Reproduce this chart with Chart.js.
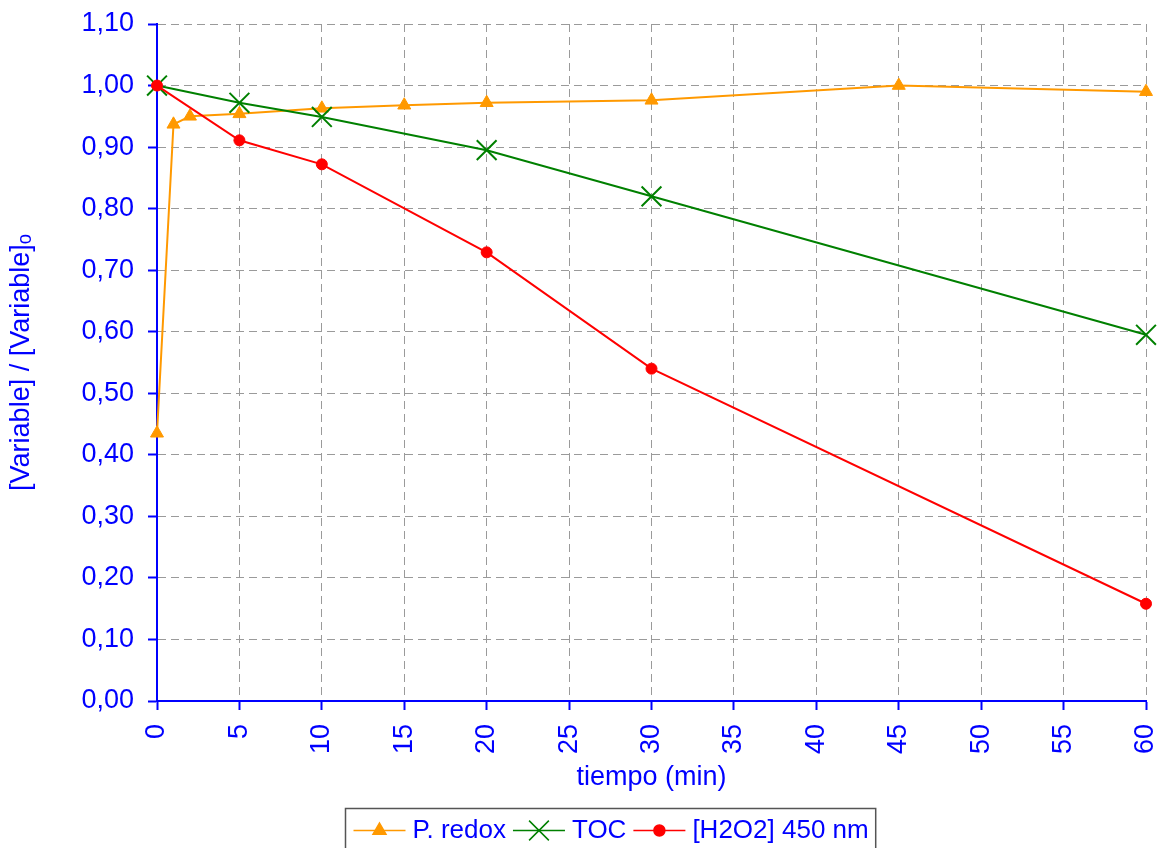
<!DOCTYPE html>
<html>
<head>
<meta charset="utf-8">
<script src="https://cdn.jsdelivr.net/npm/chart.js@4/dist/chart.umd.min.js"></script>
<style>
  html, body { margin: 0; padding: 0; background: #ffffff; }
  #wrap { width: 1162px; height: 848px; }
</style>
</head>
<body>
<div id="wrap"><canvas id="c" width="1162" height="848"></canvas></div>
<script>
// Normalised evolution of each variable over time
const redoxTime   = [0, 1, 2, 5, 10, 15, 20, 30, 45, 60];
const redoxValues = [0.435, 0.937, 0.950, 0.954, 0.963, 0.968, 0.972, 0.976, 1.000, 0.990];
const tocTime     = [0, 5, 10, 20, 30, 60];
const tocValues   = [1.000, 0.972, 0.949, 0.895, 0.820, 0.595];
const h2o2Time    = [0, 5, 10, 20, 30, 60];
const h2o2Values  = [1.000, 0.911, 0.872, 0.729, 0.540, 0.158];
const seriesNames = ['P. redox', 'TOC', '[H2O2] 450 nm'];
const xTitle = 'tiempo (min)';
const yTitle = '[Variable] / [Variable]\u2092';

const FONT = '"Liberation Sans", Arial, Helvetica, sans-serif';
const BLUE = '#0000FF';
const GRID = '#9a9a9a';

const toPoints = (xs, ys) => xs.map((x, i) => ({ x: x, y: ys[i] }));

// Boxed legend below the plot: line sample with marker, then the label
const boxLegend = {
  id: 'boxLegend',
  afterDraw(chart, args, opts) {
    const ctx = chart.ctx;
    ctx.save();
    ctx.font = opts.fontSize + 'px ' + FONT;
    const items = opts.order.map(i => chart.data.datasets[i]);
    const widths = items.map(ds => ctx.measureText(ds.label).width);
    let total = opts.pad;
    widths.forEach(w => { total += opts.lineLen + opts.gap + w + opts.gap; });
    const left = Math.round(opts.centerX - total / 2) + 0.5;
    const top = opts.top + 0.5;
    ctx.strokeStyle = opts.borderColor;
    ctx.lineWidth = 1.5;
    ctx.strokeRect(left, top, total, opts.height);
    const cy = top + opts.rowY;
    let x = left + opts.pad;
    items.forEach((ds, k) => {
      ctx.strokeStyle = ds.borderColor;
      ctx.lineWidth = 1.5;
      ctx.beginPath();
      ctx.moveTo(x, cy);
      ctx.lineTo(x + opts.lineLen, cy);
      ctx.stroke();
      ctx.fillStyle = ds.pointBackgroundColor;
      ctx.strokeStyle = ds.pointBorderColor;
      Chart.helpers.drawPoint(ctx, {
        pointStyle: ds.pointStyle,
        radius: ds.pointRadius,
        rotation: 0,
        borderWidth: ds.pointBorderWidth
      }, x + opts.lineLen / 2, cy);
      x += opts.lineLen + opts.gap;
      ctx.fillStyle = BLUE;
      ctx.textAlign = 'left';
      ctx.textBaseline = 'middle';
      ctx.fillText(ds.label, x, cy);
      x += widths[k] + opts.gap;
    });
    ctx.restore();
  }
};

const chart = new Chart(document.getElementById('c'), {
  type: 'line',
  data: {
    datasets: [
      {
        label: seriesNames[0],
        data: toPoints(redoxTime, redoxValues),
        borderColor: '#FF9900',
        backgroundColor: '#FF9900',
        pointBackgroundColor: '#FF9900',
        pointBorderColor: '#FF9900',
        pointStyle: 'triangle',
        pointRadius: 7.5,
        pointBorderWidth: 1,
        borderWidth: 2,
        order: 2
      },
      {
        label: seriesNames[1],
        data: toPoints(tocTime, tocValues),
        borderColor: '#008000',
        backgroundColor: '#008000',
        pointBackgroundColor: '#008000',
        pointBorderColor: '#008000',
        pointStyle: 'crossRot',
        pointRadius: 14,
        pointBorderWidth: 2,
        borderWidth: 2,
        order: 1
      },
      {
        label: seriesNames[2],
        data: toPoints(h2o2Time, h2o2Values),
        borderColor: '#FF0000',
        backgroundColor: '#FF0000',
        pointBackgroundColor: '#FF0000',
        pointBorderColor: '#FF0000',
        pointStyle: 'circle',
        pointRadius: 5.5,
        pointBorderWidth: 1,
        borderWidth: 2,
        order: 0
      }
    ]
  },
  options: {
    responsive: false,
    animation: false,
    devicePixelRatio: 1,
    clip: false,
    elements: { line: { tension: 0, fill: false } },
    layout: { padding: { top: 24, right: 14, bottom: 40, left: 0 } },
    plugins: {
      legend: { display: false },
      tooltip: { enabled: false },
      boxLegend: {
        order: [0, 1, 2],
        centerX: 610,
        top: 808,
        height: 60,
        rowY: 22,
        pad: 8,
        lineLen: 52,
        gap: 7,
        fontSize: 26,
        borderColor: '#555555'
      }
    },
    scales: {
      x: {
        type: 'linear',
        min: 0,
        max: 60,
        afterFit(scale) { scale.height = 107; scale.paddingLeft = 0; scale.paddingRight = 0; },
        ticks: {
          stepSize: 5,
          minRotation: 90,
          maxRotation: 90,
          padding: 14,
          color: BLUE,
          font: { family: FONT, size: 27 }
        },
        grid: {
          color: GRID,
          lineWidth: 1,
          drawTicks: true,
          tickLength: 9,
          tickColor: BLUE,
          tickWidth: 2
        },
        border: { display: true, color: BLUE, width: 2, dash: [8, 5] },
        title: {
          display: true,
          text: xTitle,
          color: BLUE,
          font: { family: FONT, size: 27 },
          padding: { top: 0, bottom: 14 }
        }
      },
      y: {
        min: 0,
        max: 1.1,
        afterFit(scale) { scale.width = 157; scale.paddingTop = 0; scale.paddingBottom = 0; },
        ticks: {
          stepSize: 0.1,
          padding: 14,
          color: BLUE,
          font: { family: FONT, size: 27 },
          callback: v => v.toFixed(2).replace('.', ',')
        },
        grid: {
          color: GRID,
          lineWidth: 1,
          drawTicks: true,
          tickLength: 9,
          tickColor: BLUE,
          tickWidth: 2
        },
        border: { display: true, color: BLUE, width: 2, dash: [8, 5] },
        title: {
          display: true,
          text: yTitle,
          color: BLUE,
          font: { family: FONT, size: 27 },
          padding: { top: 5, bottom: 0 }
        }
      }
    }
  },
  plugins: [boxLegend]
});
</script>
</body>
</html>
